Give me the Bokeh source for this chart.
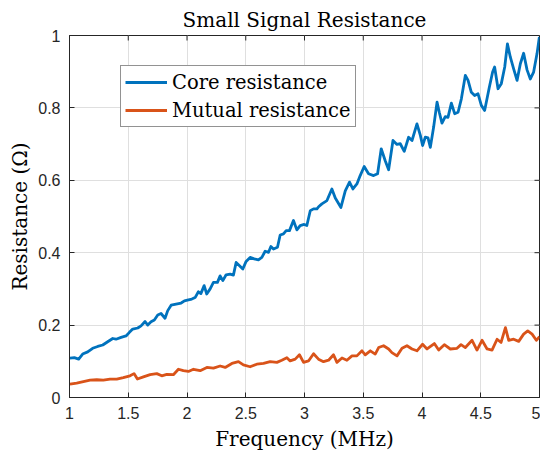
import math
from bokeh.plotting import figure
from bokeh.models import Range1d, Legend, LegendItem, FixedTicker
from bokeh.embed import file_html
from bokeh.resources import INLINE

# ---- data ----
freq_core = [1.004, 1.041, 1.078, 1.112, 1.155, 1.197, 1.240, 1.283, 1.325, 1.368,
             1.396, 1.439, 1.481, 1.510, 1.538, 1.581, 1.609, 1.643, 1.666, 1.694,
             1.722, 1.751, 1.779, 1.813, 1.836, 1.865, 1.907, 1.950, 1.978, 2.003,
             2.041, 2.069, 2.097, 2.118, 2.146, 2.168, 2.197, 2.225, 2.259, 2.282,
             2.305, 2.333, 2.367, 2.395, 2.418, 2.447, 2.475, 2.503, 2.537, 2.572,
             2.608, 2.637, 2.665, 2.694, 2.714, 2.736, 2.770, 2.793, 2.821, 2.844,
             2.872, 2.906, 2.935, 2.963, 2.997, 3.020, 3.049, 3.077, 3.106, 3.120,
             3.148, 3.191, 3.233, 3.262, 3.310, 3.347, 3.383, 3.412, 3.446, 3.474,
             3.508, 3.545, 3.588, 3.622, 3.653, 3.687, 3.716, 3.753, 3.787, 3.815,
             3.849, 3.886, 3.915, 3.957, 3.986, 4.005, 4.028, 4.051, 4.071, 4.099,
             4.128, 4.147, 4.170, 4.198, 4.221, 4.250, 4.278, 4.307, 4.335, 4.369,
             4.392, 4.420, 4.448, 4.477, 4.505, 4.533, 4.573, 4.601, 4.618, 4.647,
             4.675, 4.704, 4.727, 4.752, 4.780, 4.809, 4.837, 4.865, 4.894, 4.922,
             4.950, 4.979, 4.999]
r_core = [0.109, 0.110, 0.106, 0.120, 0.126, 0.136, 0.141, 0.145, 0.154, 0.163,
          0.161, 0.166, 0.170, 0.180, 0.189, 0.192, 0.198, 0.210, 0.200, 0.209,
          0.214, 0.228, 0.232, 0.219, 0.240, 0.255, 0.258, 0.261, 0.267, 0.269,
          0.272, 0.276, 0.292, 0.287, 0.309, 0.286, 0.300, 0.318, 0.318, 0.336,
          0.323, 0.339, 0.341, 0.338, 0.373, 0.364, 0.355, 0.376, 0.387, 0.383,
          0.380, 0.387, 0.404, 0.401, 0.417, 0.410, 0.415, 0.449, 0.452, 0.461,
          0.461, 0.489, 0.463, 0.475, 0.478, 0.475, 0.516, 0.521, 0.521, 0.527,
          0.535, 0.544, 0.576, 0.551, 0.525, 0.571, 0.595, 0.576, 0.590, 0.613,
          0.638, 0.618, 0.613, 0.618, 0.687, 0.654, 0.629, 0.710, 0.699, 0.701,
          0.680, 0.719, 0.710, 0.756, 0.724, 0.696, 0.719, 0.717, 0.691, 0.747,
          0.816, 0.788, 0.758, 0.776, 0.774, 0.813, 0.784, 0.788, 0.825, 0.890,
          0.876, 0.843, 0.834, 0.839, 0.807, 0.793, 0.857, 0.899, 0.913, 0.853,
          0.867, 0.913, 0.977, 0.940, 0.908, 0.876, 0.922, 0.951, 0.905, 0.880,
          0.899, 0.950, 0.996]

freq_mutual = [1.004, 1.061, 1.118, 1.175, 1.232, 1.288, 1.345, 1.402, 1.458, 1.515,
               1.549, 1.578, 1.629, 1.686, 1.743, 1.785, 1.828, 1.884, 1.927, 1.969,
               2.012, 2.055, 2.112, 2.169, 2.225, 2.282, 2.325, 2.382, 2.438, 2.480,
               2.537, 2.594, 2.651, 2.708, 2.765, 2.807, 2.850, 2.878, 2.921, 2.957,
               2.992, 3.034, 3.077, 3.119, 3.162, 3.205, 3.247, 3.276, 3.319, 3.361,
               3.404, 3.446, 3.489, 3.517, 3.560, 3.602, 3.631, 3.673, 3.716, 3.744,
               3.787, 3.830, 3.872, 3.915, 3.957, 4.005, 4.043, 4.105, 4.142, 4.190,
               4.241, 4.298, 4.332, 4.369, 4.426, 4.468, 4.511, 4.554, 4.596, 4.639,
               4.673, 4.710, 4.738, 4.780, 4.823, 4.865, 4.900, 4.937, 4.973, 5.000]
r_mutual = [0.037, 0.040, 0.044, 0.048, 0.049, 0.048, 0.051, 0.051, 0.055, 0.060,
            0.066, 0.051, 0.057, 0.063, 0.066, 0.060, 0.064, 0.063, 0.078, 0.074,
            0.072, 0.078, 0.074, 0.083, 0.081, 0.087, 0.083, 0.094, 0.099, 0.090,
            0.085, 0.092, 0.094, 0.099, 0.097, 0.103, 0.110, 0.101, 0.106, 0.118,
            0.097, 0.101, 0.121, 0.106, 0.099, 0.103, 0.118, 0.097, 0.109, 0.103,
            0.115, 0.115, 0.129, 0.118, 0.129, 0.120, 0.138, 0.143, 0.134, 0.124,
            0.115, 0.136, 0.143, 0.134, 0.129, 0.147, 0.134, 0.149, 0.131, 0.146,
            0.134, 0.136, 0.146, 0.138, 0.158, 0.131, 0.158, 0.134, 0.131, 0.161,
            0.152, 0.193, 0.158, 0.161, 0.155, 0.175, 0.184, 0.175, 0.158, 0.168]

x_ticks = [1, 1.5, 2, 2.5, 3, 3.5, 4, 4.5, 5]
x_tick_labels = ["1", "1.5", "2", "2.5", "3", "3.5", "4", "4.5", "5"]
y_ticks = [0, 0.2, 0.4, 0.6, 0.8, 1]
y_tick_labels = ["0", "0.2", "0.4", "0.6", "0.8", "1"]

series_names = ["Core resistance", "Mutual resistance"]
series_colors = ["#0072BD", "#D95319"]

SERIF = "DejaVu Serif"
SANS = "Liberation Sans"
AXC = "#262626"

p = figure(width=540, height=454, output_backend="svg", toolbar_location=None,
           x_range=Range1d(1, 5), y_range=Range1d(0, 1),
           min_border_left=69, min_border_right=1, min_border_top=35, min_border_bottom=57,
           background_fill_color="white", border_fill_color="white")

p.title.text = "Small Signal Resistance"
p.title.align = "center"
p.title.text_font = SERIF
p.title.text_font_size = "20px"
p.title.text_font_style = "normal"
p.title.text_color = "black"
p.title.standoff = 8

p.outline_line_color = AXC
p.outline_line_width = 1

def style_axis(ax, ticks, labels, label):
    ax.ticker = FixedTicker(ticks=ticks)
    ax.axis_line_color = AXC
    ax.major_tick_line_color = AXC
    ax.major_tick_in = 5
    ax.major_tick_out = 0
    ax.minor_tick_line_color = None
    ax.major_label_text_font = SANS
    ax.major_label_text_font_size = "16px"
    ax.major_label_text_color = AXC
    ax.major_label_overrides = dict(zip(ticks, labels))
    ax.axis_label = label
    ax.axis_label_text_font = SERIF
    ax.axis_label_text_font_size = "20px"
    ax.axis_label_text_font_style = "normal"
    ax.axis_label_text_color = "black"

style_axis(p.xaxis[0], x_ticks, x_tick_labels, "Frequency (MHz)")
p.xaxis[0].major_label_standoff = 9
p.xaxis[0].axis_label_standoff = 5
style_axis(p.yaxis[0], y_ticks, y_tick_labels, "Resistance (\u03a9)")
p.yaxis[0].major_label_standoff = 9
p.yaxis[0].axis_label_standoff = 3

p.xgrid.ticker = FixedTicker(ticks=x_ticks)
p.ygrid.ticker = FixedTicker(ticks=y_ticks)
for g in (p.xgrid[0], p.ygrid[0]):
    g.grid_line_color = "#dfdfdf"
    g.grid_line_width = 1

# inward tick marks on the top and right edges of the box (clipped to the frame)
p.scatter(x_ticks, [p.y_range.end] * len(x_ticks), marker="dash", angle=math.pi / 2,
          size=10, line_color=AXC, line_width=1)
p.scatter([p.x_range.end] * len(y_ticks), y_ticks, marker="dash", angle=0,
          size=10, line_color=AXC, line_width=1)

r1 = p.line(freq_core, r_core, line_color=series_colors[0], line_width=2.8, line_join="round")
r2 = p.line(freq_mutual, r_mutual, line_color=series_colors[1], line_width=2.8, line_join="round")

legend = Legend(items=[LegendItem(label=series_names[0], renderers=[r1]),
                       LegendItem(label=series_names[1], renderers=[r2])],
                location=(51, 270))
legend.glyph_width = 42
legend.glyph_height = 20
legend.label_standoff = 5
legend.padding = 4
legend.spacing = 4
legend.label_height = 24
legend.margin = 0
legend.border_line_color = AXC
legend.border_line_width = 1
legend.background_fill_color = "white"
legend.background_fill_alpha = 1
legend.label_text_font = SERIF
legend.label_text_font_size = "19.5px"
legend.label_text_color = "black"
p.add_layout(legend, "center")

open("out.html", "w").write(file_html(p, INLINE))
